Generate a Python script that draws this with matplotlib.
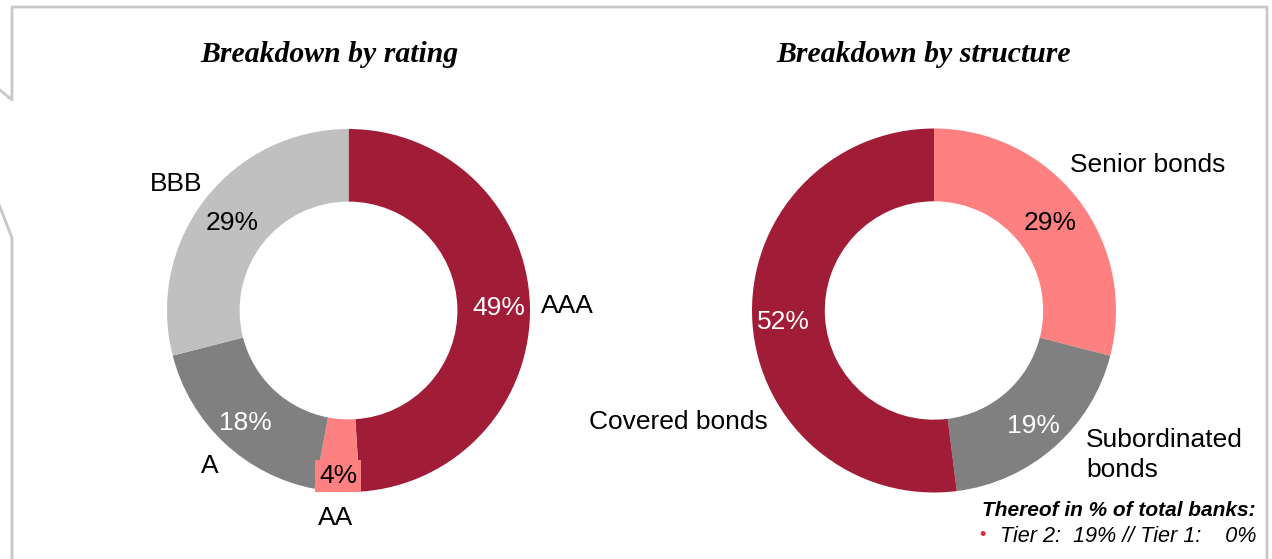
import numpy as np
import matplotlib.pyplot as plt
from matplotlib.lines import Line2D

plt.rcParams['font.family'] = ['Liberation Sans', 'DejaVu Sans']

# data
rating_labels = ['AAA', 'AA', 'A', 'BBB']
rating_values = [49, 4, 18, 29]
structure_labels = ['Senior bonds', 'Subordinated\nbonds', 'Covered bonds']
structure_values = [29, 19, 52]
footnote_title = 'Thereof in % of total banks:'
footnote_line = 'Tier 2:  19% // Tier 1:    0%'

DARK_RED = '#A11C37'
SALMON = '#FF8080'
GREY = '#808080'
LIGHT_GREY = '#C0C0C0'

W, H = 1272, 559
fig = plt.figure(figsize=(W / 100, H / 100), dpi=100)

# background axes in pixel coords for frame and titles
bg = fig.add_axes([0, 0, 1, 1])
bg.set_xlim(0, W)
bg.set_ylim(H, 0)
bg.axis('off')
frame_x = [-5, 12, 12, 1267, 1267]
frame_y = [86, 100, 7, 7, H + 5]
bg.add_line(Line2D(frame_x, frame_y, color='#C8C8C8', lw=2))
bg.add_line(Line2D([-5, 12, 12], [194, 238, H + 5], color='#C8C8C8', lw=2))

bg.text(329.5, 54, 'Breakdown by rating', family='Liberation Serif',
        fontsize=21.4, fontweight='bold', fontstyle='italic', ha='center', va='center')
bg.text(924, 54, 'Breakdown by structure', family='Liberation Serif',
        fontsize=21.4, fontweight='bold', fontstyle='italic', ha='center', va='center')

bg.text(1256, 510, footnote_title, fontsize=15, fontweight='bold',
        fontstyle='italic', ha='right', va='center')
bg.text(1256, 536, footnote_line, fontsize=15.6, fontstyle='italic',
        ha='right', va='center')
bg.text(982, 536, '\u2022', fontsize=13, color='#E0283C', ha='center', va='center')


def donut(cx, cy, r, values, colors, pct_colors, pct_dist, label_xy, label_ha, labels):
    ax = fig.add_axes([(cx - r) / W, (H - cy - r) / H, 2 * r / W, 2 * r / H])
    ax.pie(values, colors=colors, startangle=90, counterclock=False,
           radius=1, wedgeprops=dict(width=0.40, linewidth=0))
    ax.set_xlim(-1, 1)
    ax.set_ylim(-1, 1)
    ax.set_aspect('equal')
    ax.axis('off')
    total = float(sum(values))
    start = 0.0
    for i, v in enumerate(values):
        mid = np.deg2rad((start + v / 2) / total * 360)
        start += v
        x, y = pct_dist[i] * np.sin(mid), pct_dist[i] * np.cos(mid)
        kw = {}
        if isinstance(pct_colors[i], tuple):
            fc, box = pct_colors[i]
            kw['bbox'] = dict(boxstyle='square,pad=0.15', fc=box, ec='none')
        else:
            fc = pct_colors[i]
        ax.text(x, y, f'{v}%', color=fc, fontsize=19, ha='center',
                va='center_baseline', clip_on=False, **kw)
        lx, ly = label_xy[i]
        ax.text(lx, ly, labels[i], fontsize=19, ha=label_ha[i], va='center',
                clip_on=False, linespacing=1.3)
    return ax


donut(348.5, 310.5, 181.5, rating_values,
      [DARK_RED, SALMON, GREY, LIGHT_GREY],
      ['white', ('black', SALMON), 'white', 'black'],
      [0.83, 0.90, 0.83, 0.81],
      [(1.207, 0.025), (-0.069, -1.143), (-0.763, -0.857), (-0.95, 0.697)],
      ['center', 'center', 'center', 'center'],
      rating_labels)

donut(934, 310.5, 182, structure_values,
      [SALMON, GREY, DARK_RED],
      ['black', 'white', 'white'],
      [0.81, 0.83, 0.83],
      [(1.176, 0.799), (0.835, -0.794), (-1.407, -0.613)],
      ['center', 'left', 'center'],
      structure_labels)

fig.savefig('out.png', dpi=100)
